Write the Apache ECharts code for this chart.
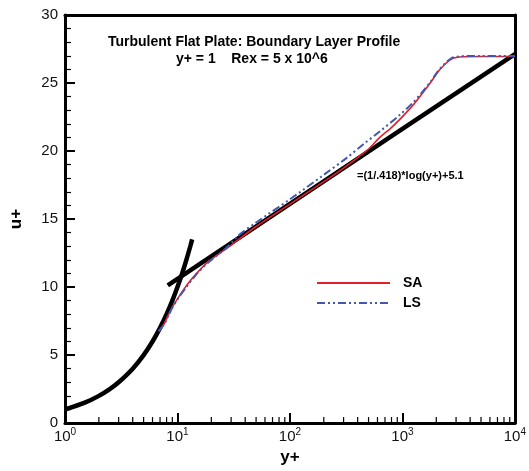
<!DOCTYPE html>
<html><head><meta charset="utf-8">
<script src="https://cdn.jsdelivr.net/npm/echarts@6/dist/echarts.min.js"></script>
<style>html,body{margin:0;padding:0;background:#fff}#c{width:529px;height:471px}</style>
</head><body><div id="c"></div>
<script>
// Viscous sublayer u+ = y+
const sublayerX = [1, 1.5, 2, 2.5, 3, 4, 5, 6, 7, 8, 9, 10, 11, 12, 13, 13.5];
const sublayerY = [1, 1.5, 2, 2.5, 3, 4, 5, 6, 7, 8, 9, 10, 11, 12, 13, 13.5];
// Log law (1/.418)*log(y+)+5.1
const logLawX = [8.2, 100, 1000, 10000];
const logLawY = [10.13, 16.12, 21.63, 27.13];
// SA
const saX = [6.8, 7.6, 8.3, 9.1, 10.5, 12, 14.6, 19, 27, 35, 50, 100, 200, 300, 390, 500, 620, 780, 930, 1220, 1490, 1800, 2083, 2400, 2700, 3000, 3500, 5000, 10000];
const saY = [6.75, 7.3, 7.95, 8.6, 9.4, 10.1, 10.95, 11.9, 12.8, 13.5, 14.45, 16.1, 17.75, 18.75, 19.45, 20.15, 20.95, 21.65, 22.25, 23.3, 24.2, 25.1, 25.85, 26.4, 26.75, 26.88, 26.93, 26.95, 26.95];
// LS
const lsX = [6.8, 7.6, 8.3, 9.1, 10.5, 12, 14.6, 19, 27, 35, 50, 100, 200, 320, 450, 620, 930, 1220, 1490, 1800, 2083, 2400, 2700, 3000, 3500, 5000, 10000];
const lsY = [6.75, 7.25, 7.9, 8.55, 9.35, 10.0, 10.9, 11.85, 12.85, 13.8, 14.75, 16.45, 18.25, 19.5, 20.5, 21.4, 22.6, 23.5, 24.3, 25.15, 25.9, 26.45, 26.8, 26.93, 26.98, 26.98, 26.98];
// Minor tick positions on the log x axis
const minorXTicks = [2,3,4,5,6,7,8,9,20,30,40,50,60,70,80,90,200,300,400,500,600,700,800,900,2000,3000,4000,5000,6000,7000,8000,9000];

const zip = (a, b) => a.map((v, i) => [v, b[i]]);
const FONT = 'Liberation Sans';
const frameAxis = {axisLine: {show: true, onZero: false, lineStyle: {color: '#000', width: 3}}, axisTick: {show: false}, axisLabel: {show: false}, splitLine: {show: false}};

const chart = echarts.init(document.getElementById('c'), null, {renderer: 'canvas'});
chart.setOption({
  animation: false,
  backgroundColor: '#fff',
  grid: {left: 60, right: 11, top: 15, bottom: 39},
  xAxis: [{
    type: 'log', logBase: 10, min: 1, max: 10000,
    name: 'y+', nameLocation: 'middle', nameGap: 22,
    nameTextStyle: {fontFamily: FONT, fontWeight: 'bold', fontSize: 17, color: '#000'},
    axisLine: {onZero: false, lineStyle: {color: '#000', width: 3}},
    axisTick: {inside: true, length: 10, lineStyle: {color: '#000', width: 2}},
    splitLine: {show: false},
    axisLabel: {
      margin: 4, color: '#111', fontFamily: FONT,
      formatter: v => '{b|10}{s|' + Math.round(Math.log10(v)) + '}',
      rich: {b: {fontSize: 15, fontFamily: FONT, color: '#111'}, s: {fontSize: 10, fontFamily: FONT, color: '#111', padding: [0, 0, 9, 0]}}
    }
  }, Object.assign({type: 'log', logBase: 10, min: 1, max: 10000, position: 'top'}, frameAxis)],
  yAxis: [{
    type: 'value', min: 0, max: 30, interval: 5,
    name: 'u+', nameLocation: 'middle', nameGap: 40, nameRotate: 90,
    nameTextStyle: {fontFamily: FONT, fontWeight: 'bold', fontSize: 17, color: '#000'},
    axisLine: {onZero: false, lineStyle: {color: '#000', width: 3}},
    axisTick: {inside: true, length: 10, lineStyle: {color: '#000', width: 2}},
    minorTick: {show: true, splitNumber: 5, length: 6, lineStyle: {color: '#000', width: 1.2}},
    splitLine: {show: false},
    axisLabel: {margin: 7, fontFamily: FONT, fontSize: 15, color: '#111'}
  }, Object.assign({type: 'value', min: 0, max: 30, position: 'right'}, frameAxis)],
  legend: {
    orient: 'vertical', left: 311, top: 271, itemWidth: 73, itemHeight: 14, itemGap: 6,
    data: ['SA', 'LS'],
    itemStyle: {opacity: 0},
    textStyle: {fontFamily: FONT, fontWeight: 'bold', fontSize: 14, color: '#000', padding: [0, 0, 0, 8]}
  },
  graphic: [
    {type: 'text', left: 108, top: 35, style: {text: 'Turbulent Flat Plate: Boundary Layer Profile', font: 'bold 14px "Liberation Sans"', fill: '#000'}},
    {type: 'text', left: 176, top: 52, style: {text: 'y+ = 1    Rex = 5 x 10^6', font: 'bold 14px "Liberation Sans"', fill: '#000'}},
    {type: 'text', left: 357, top: 170, style: {text: '=(1/.418)*log(y+)+5.1', font: 'bold 11px "Liberation Sans"', fill: '#000'}}
  ],
  series: [
    {name: 'sublayer', type: 'line', data: zip(sublayerX, sublayerY), symbol: 'none', smooth: 0.3,
     lineStyle: {color: '#000', width: 4.5}, z: 3},
    {name: 'loglaw', type: 'line', data: zip(logLawX, logLawY), symbol: 'none',
     lineStyle: {color: '#000', width: 4.5}, z: 3},
    {name: 'SA', type: 'line', data: zip(saX, saY), symbol: 'none', smooth: 0.3,
     lineStyle: {color: '#e3202a', width: 1.6}, itemStyle: {color: '#e3202a'}, z: 4},
    {name: 'LS', type: 'line', data: zip(lsX, lsY), symbol: 'none', smooth: 0.3,
     lineStyle: {color: '#4457b0', width: 2, type: [8, 3, 2, 3, 2, 3]}, itemStyle: {color: '#4457b0'}, z: 5},
    {name: 'minorTicks', type: 'custom', data: minorXTicks.map(v => [v, 0]), z: 6, silent: true,
     renderItem: (params, api) => {
       const p = api.coord([api.value(0), 0]);
       return {type: 'line', shape: {x1: p[0], y1: p[1], x2: p[0], y2: p[1] - 6}, style: {stroke: '#000', lineWidth: 1.2}};
     }}
  ]
});
</script></body></html>
